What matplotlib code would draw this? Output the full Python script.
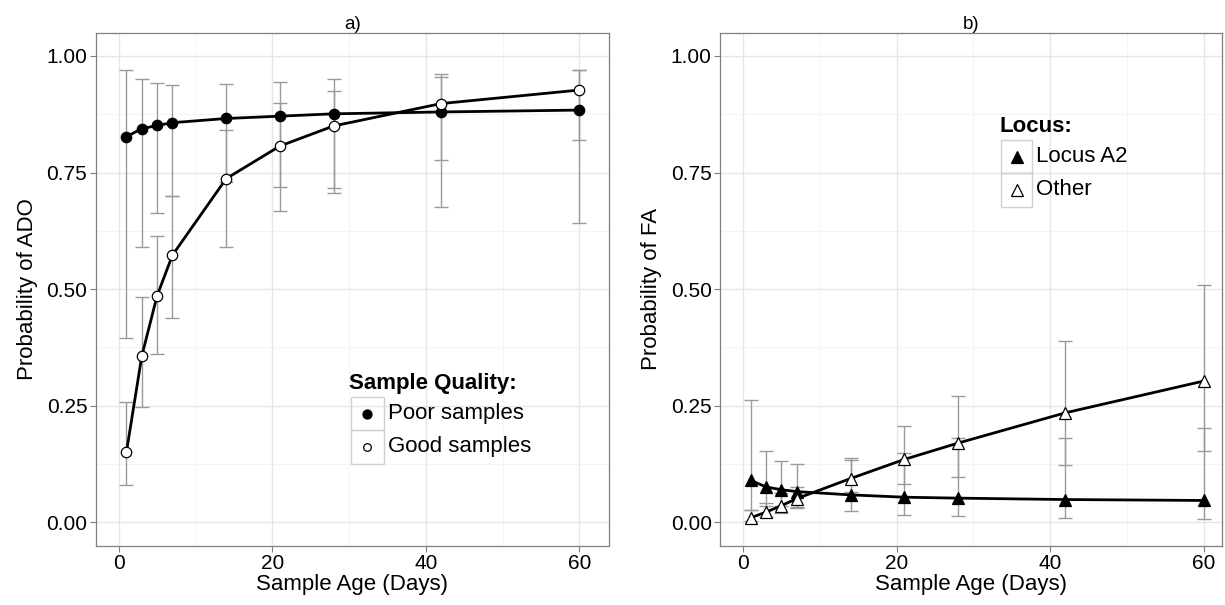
import matplotlib
matplotlib.use('Agg')
import matplotlib.pyplot as plt
from matplotlib.patches import Rectangle
from matplotlib.ticker import MultipleLocator

plt.rcParams['font.family'] = ['Liberation Sans', 'DejaVu Sans']

# sample age (days)
age = [1, 3, 5, 7, 14, 21, 28, 42, 60]

# panel a: probability of ADO
poor = [0.827, 0.844, 0.851, 0.857, 0.866, 0.871, 0.876, 0.880, 0.884]
poor_lo = [0.395, 0.591, 0.663, 0.699, 0.730, 0.720, 0.706, 0.677, 0.642]
poor_hi = [0.971, 0.951, 0.943, 0.938, 0.939, 0.945, 0.951, 0.956, 0.970]
good = [0.150, 0.356, 0.486, 0.573, 0.737, 0.807, 0.850, 0.898, 0.927]
good_lo = [0.081, 0.247, 0.360, 0.438, 0.590, 0.667, 0.716, 0.777, 0.819]
good_hi = [0.258, 0.484, 0.613, 0.699, 0.842, 0.899, 0.926, 0.961, 0.970]

# panel b: probability of FA
a2 = [0.090, 0.076, 0.070, 0.066, 0.059, 0.054, 0.052, 0.049, 0.047]
a2_lo = [0.027, 0.036, 0.036, 0.031, 0.024, 0.016, 0.013, 0.010, 0.008]
a2_hi = [0.263, 0.153, 0.131, 0.126, 0.138, 0.148, 0.180, 0.181, 0.203]
other = [0.010, 0.022, 0.036, 0.051, 0.094, 0.135, 0.170, 0.235, 0.303]
other_lo = [0.004, 0.011, 0.020, 0.034, 0.065, 0.082, 0.098, 0.124, 0.152]
other_hi = [0.026, 0.042, 0.064, 0.076, 0.133, 0.206, 0.270, 0.388, 0.508]

y_ticks = [0.0, 0.25, 0.5, 0.75, 1.0]
y_tick_labels = ['0.00', '0.25', '0.50', '0.75', '1.00']
x_ticks = [0, 20, 40, 60]

GREY = '#7f7f7f'
BAR = '#9a9a9a'


def style(ax, title, ylabel, xlim):
    ax.set_xlim(*xlim)
    ax.set_ylim(-0.05, 1.05)
    ax.set_xticks(x_ticks)
    ax.set_yticks(y_ticks)
    ax.set_yticklabels(y_tick_labels)
    ax.xaxis.set_minor_locator(MultipleLocator(10))
    ax.yaxis.set_minor_locator(MultipleLocator(0.125))
    ax.grid(which='major', color='#e6e6e6', lw=1.0, zorder=0)
    ax.grid(which='minor', color='#f3f3f3', lw=0.6, zorder=0)
    ax.set_axisbelow(True)
    for s in ax.spines.values():
        s.set_color(GREY)
        s.set_linewidth(0.9)
    ax.tick_params(which='major', direction='out', length=4, width=0.8,
                   color=GREY, labelsize=15, pad=2)
    ax.tick_params(which='minor', length=0)
    ax.set_title(title, fontsize=13.5, pad=3)
    ax.set_xlabel('Sample Age (Days)', fontsize=16, labelpad=1)
    ax.set_ylabel(ylabel, fontsize=16, labelpad=6)


def series(ax, y, lo, hi, marker, face, ms):
    err = [[v - l for v, l in zip(y, lo)], [h - v for v, h in zip(y, hi)]]
    ax.errorbar(age, y, yerr=err, fmt='none', ecolor=BAR, elinewidth=1,
                capsize=5, capthick=1, zorder=2)
    ax.plot(age, y, color='black', lw=2, zorder=3)
    ax.plot(age, y, ls='none', marker=marker, ms=ms, mfc=face,
            mec='black', mew=0.9, zorder=4)


def key(ax, title, x, y, labels, marker, faces, sizes, w=0.064, h=0.065):
    ax.text(x - 0.003, y, title, transform=ax.transAxes, fontsize=16,
            fontweight='bold', va='center', ha='left')
    top = y - 0.027
    for i, (lab, fc, s) in enumerate(zip(labels, faces, sizes)):
        yb = top - (i + 1) * h
        ax.add_patch(Rectangle((x, yb), w, h, transform=ax.transAxes,
                               fill=False, ec='#d0d0d0', lw=1, zorder=5))
        ax.plot([x + w / 2], [yb + h / 2], transform=ax.transAxes,
                marker=marker, ms=s, mfc=fc, mec='black', mew=0.9,
                ls='none', zorder=6, clip_on=False)
        ax.text(x + w + 0.008, yb + h / 2, lab, transform=ax.transAxes,
                fontsize=16, va='center', ha='left')


fig = plt.figure(figsize=(12.25, 6.05), dpi=100)
ax1 = fig.add_axes([0.0781, 0.098, 0.4193, 0.848])
ax2 = fig.add_axes([0.5878, 0.098, 0.4098, 0.848])

series(ax1, poor, poor_lo, poor_hi, 'o', 'black', 7.5)
series(ax1, good, good_lo, good_hi, 'o', 'white', 7.5)
style(ax1, 'a)', 'Probability of ADO', (-3.0, 63.9))
key(ax1, 'Sample Quality:', 0.497, 0.317, ['Poor samples', 'Good samples'],
    'o', ['black', 'white'], [6.5, 5.5])

series(ax2, a2, a2_lo, a2_hi, '^', 'black', 9)
series(ax2, other, other_lo, other_hi, '^', 'white', 9)
style(ax2, 'b)', 'Probability of FA', (-3.0, 62.4))
key(ax2, 'Locus:', 0.560, 0.818, ['Locus A2', 'Other'],
    '^', ['black', 'white'], [9, 9], w=0.062)

fig.savefig('out.png', dpi=100)
